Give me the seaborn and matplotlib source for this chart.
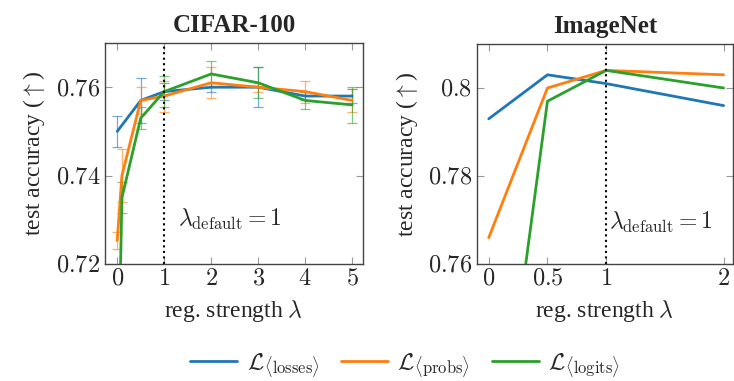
import numpy as np
import pandas as pd
import matplotlib
matplotlib.use("Agg")
import matplotlib.pyplot as plt
import seaborn as sns
from matplotlib.ticker import FuncFormatter

sns.set_style("white")
plt.rcParams['font.family'] = ['Liberation Serif', 'DejaVu Serif']
plt.rcParams['mathtext.fontset'] = 'cm'

# CIFAR-100
cifar_x_losses = [0, 0.5, 1, 2, 3, 4, 5]
cifar_losses = [0.750, 0.757, 0.759, 0.760, 0.760, 0.758, 0.758]
cifar_losses_err = [0.0035, 0.005, 0.002, 0.001, 0.0045, 0.001, 0.0015]

cifar_x = [0, 0.1, 0.5, 1, 2, 3, 4, 5]
cifar_probs = [0.7253, 0.740, 0.757, 0.758, 0.761, 0.760, 0.759, 0.757]
cifar_probs_err = [0.002, 0.006, 0.003, 0.0035, 0.0035, 0.001, 0.0025, 0.0025]
cifar_logits = [0.683, 0.735, 0.753, 0.759, 0.763, 0.761, 0.757, 0.756]
cifar_logits_err = [0.003, 0.0035, 0.0025, 0.0035, 0.003, 0.0035, 0.002, 0.004]

# ImageNet
inet_x = [0, 0.5, 1, 2]
inet_losses = [0.793, 0.803, 0.801, 0.796]
inet_probs = [0.766, 0.800, 0.804, 0.803]
inet_logits = [0.697, 0.797, 0.804, 0.800]

names = [r'$\mathcal{L}_{\langle\mathrm{losses}\rangle}$',
         r'$\mathcal{L}_{\langle\mathrm{probs}\rangle}$',
         r'$\mathcal{L}_{\langle\mathrm{logits}\rangle}$']
colors = ['#1f77b4', '#ff7f0e', '#2ca02c']

cifar = pd.concat([
    pd.DataFrame({'lam': cifar_x_losses, 'acc': cifar_losses, 'err': cifar_losses_err, 'loss': names[0]}),
    pd.DataFrame({'lam': cifar_x, 'acc': cifar_probs, 'err': cifar_probs_err, 'loss': names[1]}),
    pd.DataFrame({'lam': cifar_x, 'acc': cifar_logits, 'err': cifar_logits_err, 'loss': names[2]}),
])
inet = pd.concat([
    pd.DataFrame({'lam': inet_x, 'acc': inet_losses, 'loss': names[0]}),
    pd.DataFrame({'lam': inet_x, 'acc': inet_probs, 'loss': names[1]}),
    pd.DataFrame({'lam': inet_x, 'acc': inet_logits, 'loss': names[2]}),
])

fig = plt.figure(figsize=(7.34, 3.81), dpi=100)
ax1 = fig.add_axes([105/734, 1-264/381, 258/734, 221/381])
ax2 = fig.add_axes([477/734, 1-264/381, 256/734, 220/381])

for name, c in zip(names, colors):
    d = cifar[cifar['loss'] == name]
    ax1.errorbar(d['lam'], d['acc'], yerr=d['err'], fmt='none', ecolor=c,
                 alpha=0.6, capsize=3.5, elinewidth=0.9, capthick=0.9)

sns.lineplot(data=cifar, x='lam', y='acc', hue='loss', palette=colors,
             ax=ax1, lw=2, legend=False, errorbar=None, sort=False)
sns.lineplot(data=inet, x='lam', y='acc', hue='loss', palette=colors,
             ax=ax2, lw=2, legend=True, errorbar=None, sort=False)

fmt = FuncFormatter(lambda v, p: f'${v:g}$')

ax1.set_xlim(-0.26, 5.23)
ax1.set_ylim(0.72, 0.770)
ax1.set_xticks([0, 1, 2, 3, 4, 5])
ax1.set_yticks([0.72, 0.74, 0.76])
ax1.set_title('CIFAR-100', fontweight='bold', fontsize=18, pad=8)
ax1.axvline(1, color='black', ls=':', lw=1.5)
ax1.text(1.3, 0.7300, r'$\lambda_{\mathrm{default}} = 1$', fontsize=17, va='center')

ax2.set_xlim(-0.1, 2.08)
ax2.set_ylim(0.76, 0.81)
ax2.set_xticks([0, 0.5, 1, 2])
ax2.set_yticks([0.76, 0.78, 0.8])
ax2.set_title('ImageNet', fontweight='bold', fontsize=18, pad=8)
ax2.axvline(1, color='black', ls=':', lw=1.5)
ax2.text(1.02, 0.7695, r'$\lambda_{\mathrm{default}} = 1$', fontsize=17, va='center')

for ax in (ax1, ax2):
    ax.xaxis.set_major_formatter(fmt)
    ax.yaxis.set_major_formatter(fmt)
    ax.tick_params(direction='in', length=5, color='#999999', labelsize=17.5,
                   top=True, right=True, bottom=True, left=True)
    ax.set_xlabel(r'reg. strength $\lambda$', fontsize=17, labelpad=6)
    ax.set_ylabel(r'test accuracy ($\uparrow$)', fontsize=17, labelpad=6)
    for s in ax.spines.values():
        s.set_color('#444444')
        s.set_linewidth(1.0)

handles, labels = ax2.get_legend_handles_labels()
ax2.get_legend().remove()
fig.legend(handles, labels, loc='center', bbox_to_anchor=(405/734, 1-365/381),
           ncol=3, frameon=False, fontsize=17, handlelength=2.0,
           handletextpad=0.4, columnspacing=0.9)

fig.savefig('out.png', dpi=100)
